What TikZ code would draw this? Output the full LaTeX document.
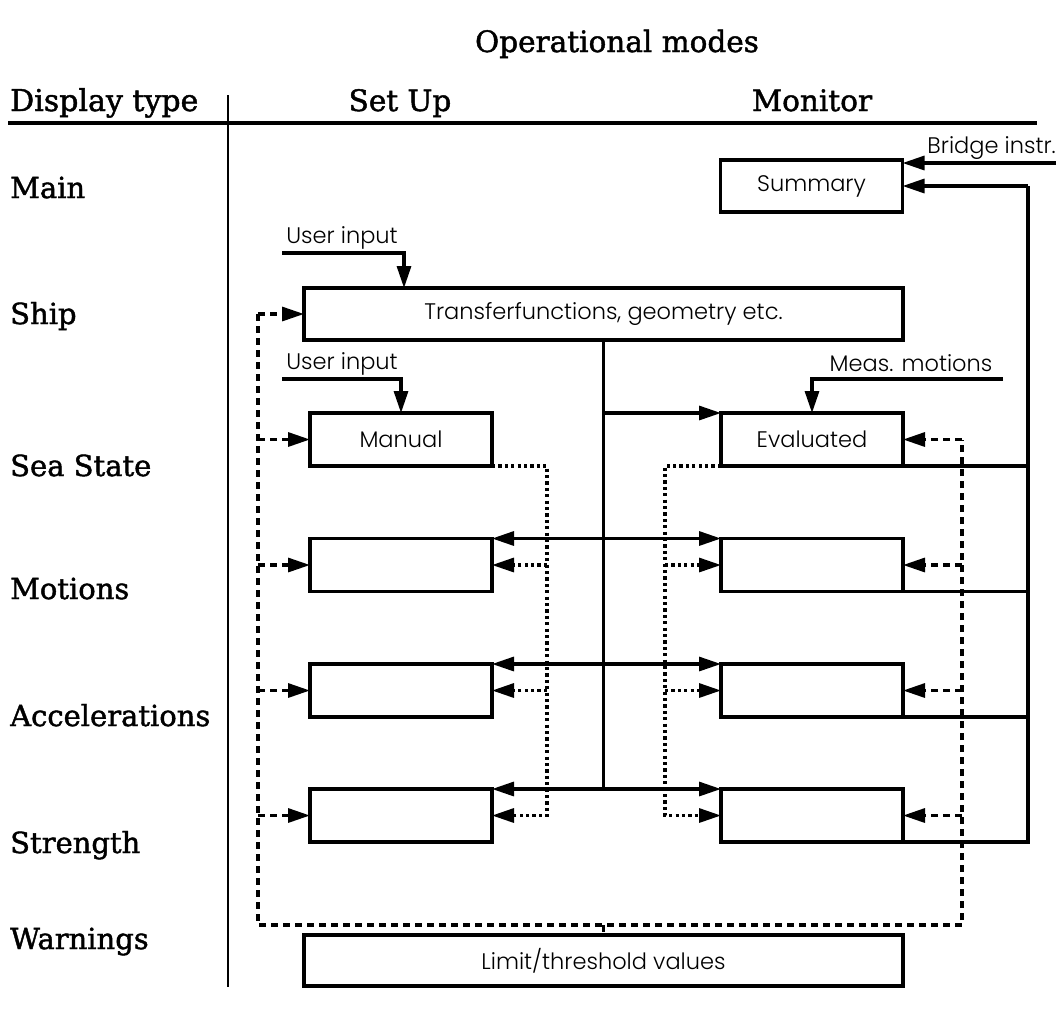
\documentclass[tikz,border=0pt]{standalone}
\usepackage{fontspec}
\setmainfont{DejaVu Serif}[FakeBold=1.5]
\newfontfamily\gothic{Poppins Light}
\usetikzlibrary{arrows.meta}

\begin{document}
\begin{tikzpicture}[x=1pt,y=-1pt,
  lw/.style={line width=3.2pt},
  box/.style={draw, lw, rectangle, inner sep=0pt, outer sep=0pt,
    font=\gothic\fontsize{22.5}{26}\selectfont},
  wide/.style={box, minimum width=599pt, minimum height=52pt},
  narrow/.style={box, minimum width=182pt, minimum height=53pt},
  tip/.style={-{Triangle[length=22pt,width=14pt]}},
  twotip/.style={{Triangle[length=22pt,width=14pt]}-{Triangle[length=22pt,width=14pt]}},
  dsh/.style={lw, dash pattern=on 7pt off 5pt},
  dotl/.style={lw, dash pattern=on 3.2pt off 3.2pt},
  head/.style={anchor=base, inner sep=0pt, font=\fontsize{29.5}{34}\selectfont},
  rowlbl/.style={anchor=base west, inner sep=0pt, font=\fontsize{29}{34}\selectfont},
  small/.style={inner sep=0pt, font=\gothic\fontsize{22.5}{26}\selectfont}
]
\useasboundingbox (0,0) rectangle (1059,1010);

% table frame and headings
\node[head] (opmodes) at (617,52) {Operational modes};
\node[rowlbl, font=\fontsize{30}{34}\selectfont] (disptype) at (10,111) {Display type};
\node[head] (setup) at (400,111) {Set Up};
\node[head] (monitor) at (812,111) {Monitor};
\draw[line width=3.4pt] (8,123) -- (1037,123);
\draw[line width=2.6pt] (228,95) -- (228,987);

% row labels
\node[rowlbl] (lmain) at (10,198) {Main};
\node[rowlbl] (lship) at (10,324) {Ship};
\node[rowlbl] (lsea) at (10,476) {Sea State};
\node[rowlbl] (lmot) at (10,599) {Motions};
\node[rowlbl] (lacc) at (10,726) {Accelerations};
\node[rowlbl] (lstr) at (10,853) {Strength};
\node[rowlbl] (lwarn) at (10,949) {Warnings};

% boxes
\node[narrow, minimum height=52pt] (summary) at (811.5,186) {Summary};
\node[wide] (transfer) at (603.5,314) {Transferfunctions, geometry etc.};
\node[narrow] (manual) at (401,439.5) {Manual};
\node[narrow] (evaluated) at (812,439.5) {Evaluated};
\node[narrow] (motL) at (401,565) {};
\node[narrow] (motR) at (812,565) {};
\node[narrow] (accL) at (401,690.5) {};
\node[narrow] (accR) at (812,690.5) {};
\node[narrow] (strL) at (401,815.5) {};
\node[narrow] (strR) at (812,815.5) {};
\node[wide, minimum height=51pt] (limit) at (603.5,960.5) {Limit/threshold values};

% external inputs
\node[small, anchor=east] (bridgelbl) at (1056,148) {Bridge instr.};
\coordinate (bridge) at (1056,163);
\draw[lw,tip] (bridge) -- (bridge -| summary.east);

\node[small] (ui1lbl) at (342,238) {User input};
\coordinate (ui1) at (282,253);
\coordinate (ui1k) at (404,253);
\draw[lw,tip] (ui1) -- (ui1k) -- (ui1k |- transfer.north);

\node[small] (ui2lbl) at (342,364) {User input};
\coordinate (ui2) at (282,379);
\draw[lw,tip] (ui2) -| (manual.north);

\node[small] (measlbl) at (911,363) {Meas. motions};
\coordinate (meas) at (1003,379);
\draw[lw,tip] (meas) -| (evaluated.north);

% right-hand collector into the summary
\coordinate (rbus) at (1028,186);
\draw[lw,tip] (rbus) -- (summary.east);
\draw[lw] (rbus) -- (rbus |- strR.south east) -- (strR.south east);
\draw[lw] (evaluated.south east) -- (evaluated.south east -| rbus);
\draw[lw] (motR.south east) -- (motR.south east -| rbus);
\draw[lw] (accR.south east) -- (accR.south east -| rbus);

% central distribution from the ship data
\draw[lw] (transfer.south) -- (transfer.south |- strL.north);
\draw[lw,tip] (transfer.south |- evaluated.north west) -- (evaluated.north west);
\draw[lw,twotip] (motL.north east) -- (motR.north west);
\draw[lw,twotip] (accL.north east) -- (accR.north west);
\draw[lw,twotip] (strL.north east) -- (strR.north west);

% dotted sea-state feeds
\coordinate (dl) at (547,0);
\coordinate (dr) at (665,0);
\draw[dotl,tip] (manual.south east) -| (strL.east -| dl) -- (strL.east);
\draw[dotl,tip] (motL.east -| dl) -- (motL.east);
\draw[dotl,tip] (accL.east -| dl) -- (accL.east);
\draw[dotl,tip] (evaluated.south west) -| (strR.west -| dr) -- (strR.west);
\draw[dotl,tip] (motR.west -| dr) -- (motR.west);
\draw[dotl,tip] (accR.west -| dr) -- (accR.west);

% dashed limit/threshold loop
\coordinate (dlt) at (258,314);
\coordinate (dlb) at (258,925);
\coordinate (drb) at (962,925);
\coordinate (drt) at (962,439.5);
\draw[dsh] (dlt) -- (dlb) -- (drb) -- (drt);
\draw[dsh] (dlb -| limit.north) -- (limit.north);
\draw[dsh,tip] (dlt) -- (transfer.west);
\draw[dsh,tip] (manual.west -| dlt) -- (manual.west);
\draw[dsh,tip] (motL.west -| dlt) -- (motL.west);
\draw[dsh,tip] (accL.west -| dlt) -- (accL.west);
\draw[dsh,tip] (strL.west -| dlt) -- (strL.west);
\draw[dsh,tip] (drt) -- (evaluated.east);
\draw[dsh,tip] (motR.east -| drt) -- (motR.east);
\draw[dsh,tip] (accR.east -| drt) -- (accR.east);
\draw[dsh,tip] (strR.east -| drt) -- (strR.east);
\end{tikzpicture}
\end{document}
